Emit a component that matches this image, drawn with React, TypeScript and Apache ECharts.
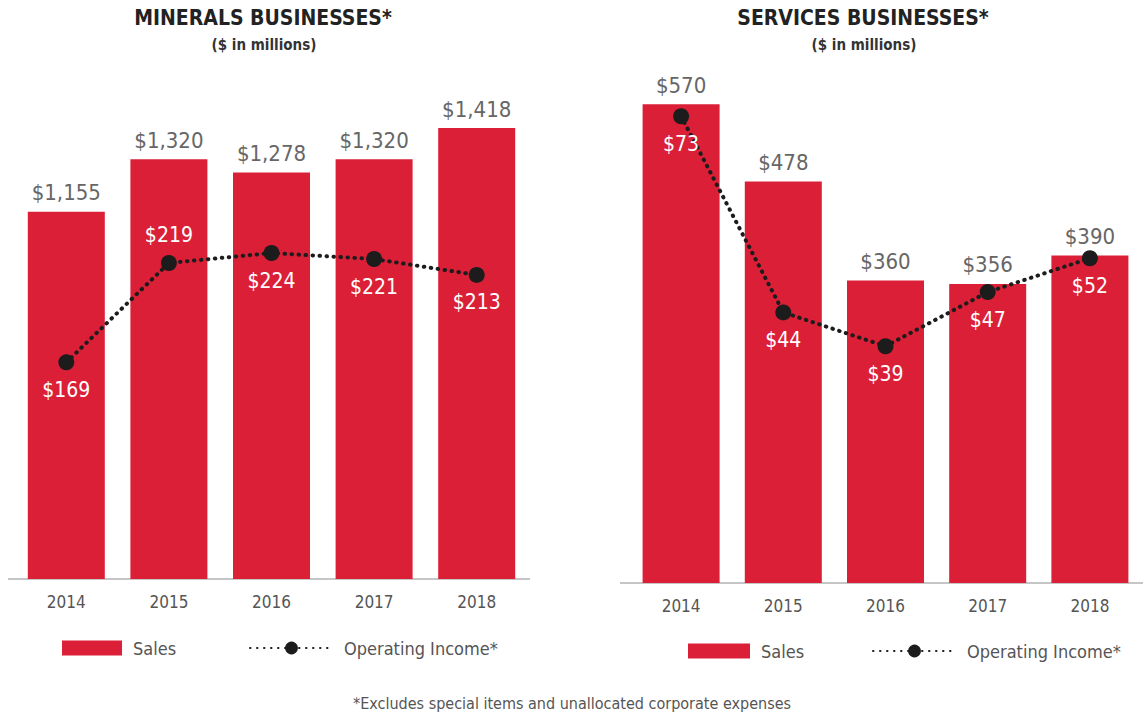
import React, { useEffect, useRef } from "react";
import * as echarts from "echarts";

const years = ["2014", "2015", "2016", "2017", "2018"];
const mineralsSales = [1155, 1320, 1278, 1320, 1418];
const mineralsIncome = [169, 219, 224, 221, 213];
const servicesSales = [570, 478, 360, 356, 390];
const servicesIncome = [73, 44, 39, 47, 52];
const mineralsLabelPos = ["bottom", "top", "bottom", "bottom", "bottom"];
const servicesLabelPos = ["bottom", "bottom", "bottom", "bottom", "bottom"];

const FONT = "'DejaVu Sans Condensed', 'Liberation Sans Narrow', 'DejaVu Sans', sans-serif";
const RED = "#DB1F37";
const DOT = "#1c1c1c";

const money = (v: number) => "$" + Number(v).toLocaleString("en-US");

function barSeries(data: number[], idx: number) {
  return {
    type: "bar",
    name: "Sales",
    xAxisIndex: idx,
    yAxisIndex: idx * 2,
    data,
    barWidth: 77,
    itemStyle: { color: RED },
    label: {
      show: true,
      position: "top",
      distance: 8,
      color: "#666",
      fontSize: 22,
      fontFamily: FONT,
      formatter: (p: any) => money(p.value),
    },
    z: 2,
  };
}

function lineSeries(data: number[], pos: string[], idx: number) {
  return {
    type: "line",
    name: "Operating Income*",
    xAxisIndex: idx,
    yAxisIndex: idx * 2 + 1,
    data: data.map((v, i) => ({ value: v, label: { position: pos[i] } })),
    symbol: "circle",
    symbolSize: 16,
    itemStyle: { color: DOT },
    lineStyle: { color: DOT, width: 4, type: [0.5, 6.5], cap: "round" },
    label: {
      show: true,
      position: "bottom",
      distance: 9,
      color: "#ffffff",
      fontSize: 21,
      fontFamily: FONT,
      formatter: (p: any) => money(p.value),
    },
    z: 3,
  };
}

function catAxis(idx: number) {
  return {
    gridIndex: idx,
    type: "category",
    data: years,
    axisLine: { show: false },
    axisTick: { show: false },
    axisLabel: { color: "#555", fontSize: 17, margin: 14, fontFamily: FONT },
  };
}

const legendText = { color: "#555", fontSize: 18, fontFamily: FONT, padding: [0, 0, 0, 6] };

export default function App() {
  const ref = useRef<HTMLDivElement>(null);
  useEffect(() => {
    if (!ref.current) return;
    const chart = echarts.init(ref.current, null, { renderer: "svg" });
    chart.setOption({
      animation: false,
      textStyle: { fontFamily: FONT },
      grid: [
        { left: 15, width: 513, top: 102, height: 477 },
        { left: 630, width: 511, top: 79, height: 504 },
      ],
      xAxis: [catAxis(0), catAxis(1)],
      yAxis: [
        { gridIndex: 0, min: 0, max: 1500, show: false },
        { gridIndex: 0, min: 60, max: 300, show: false },
        { gridIndex: 1, min: 0, max: 600, show: false },
        { gridIndex: 1, min: 4, max: 78.5, show: false },
      ],
      legend: [
        { data: ["Sales"], left: 57, top: 634, itemWidth: 60, itemHeight: 15, icon: "rect", textStyle: legendText },
        { data: ["Operating Income*"], left: 244, top: 634, itemWidth: 83, itemHeight: 16, textStyle: legendText },
        { data: ["Sales"], left: 683, top: 637, itemWidth: 62, itemHeight: 15, icon: "rect", textStyle: legendText },
        { data: ["Operating Income*"], left: 867, top: 637, itemWidth: 83, itemHeight: 16, textStyle: legendText },
      ],
      series: [
        barSeries(mineralsSales, 0),
        lineSeries(mineralsIncome, mineralsLabelPos, 0),
        barSeries(servicesSales, 1),
        lineSeries(servicesIncome, servicesLabelPos, 1),
      ],
      graphic: [
        { type: "line", shape: { x1: 8, y1: 579, x2: 530, y2: 579 }, style: { stroke: "#c6c6c6", lineWidth: 2 }, z: 1 },
        { type: "line", shape: { x1: 620, y1: 583, x2: 1143, y2: 583 }, style: { stroke: "#c6c6c6", lineWidth: 2 }, z: 1 },
        {
          type: "text", x: 263, y: 18,
          style: { text: "MINERALS BUSINESSES*", font: `bold 21px ${FONT}`, fill: "#222", textAlign: "center", textVerticalAlign: "middle", align: "center", verticalAlign: "middle" },
        },
        {
          type: "text", x: 264, y: 45,
          style: { text: "($ in millions)", font: `bold 15px ${FONT}`, fill: "#333", textAlign: "center", textVerticalAlign: "middle", align: "center", verticalAlign: "middle" },
        },
        {
          type: "text", x: 863, y: 18,
          style: { text: "SERVICES BUSINESSES*", font: `bold 21px ${FONT}`, fill: "#222", textAlign: "center", textVerticalAlign: "middle", align: "center", verticalAlign: "middle" },
        },
        {
          type: "text", x: 864, y: 45,
          style: { text: "($ in millions)", font: `bold 15px ${FONT}`, fill: "#333", textAlign: "center", textVerticalAlign: "middle", align: "center", verticalAlign: "middle" },
        },
        {
          type: "text", x: 572, y: 703,
          style: { text: "*Excludes special items and unallocated corporate expenses", font: `16px ${FONT}`, fill: "#555", textAlign: "center", textVerticalAlign: "middle", align: "center", verticalAlign: "middle" },
        },
      ],
    });
    return () => chart.dispose();
  }, []);
  return (
    <div
      ref={ref}
      style={{ position: "fixed", left: 0, top: 0, width: 1143, height: 714, background: "#fff" }}
    />
  );
}
